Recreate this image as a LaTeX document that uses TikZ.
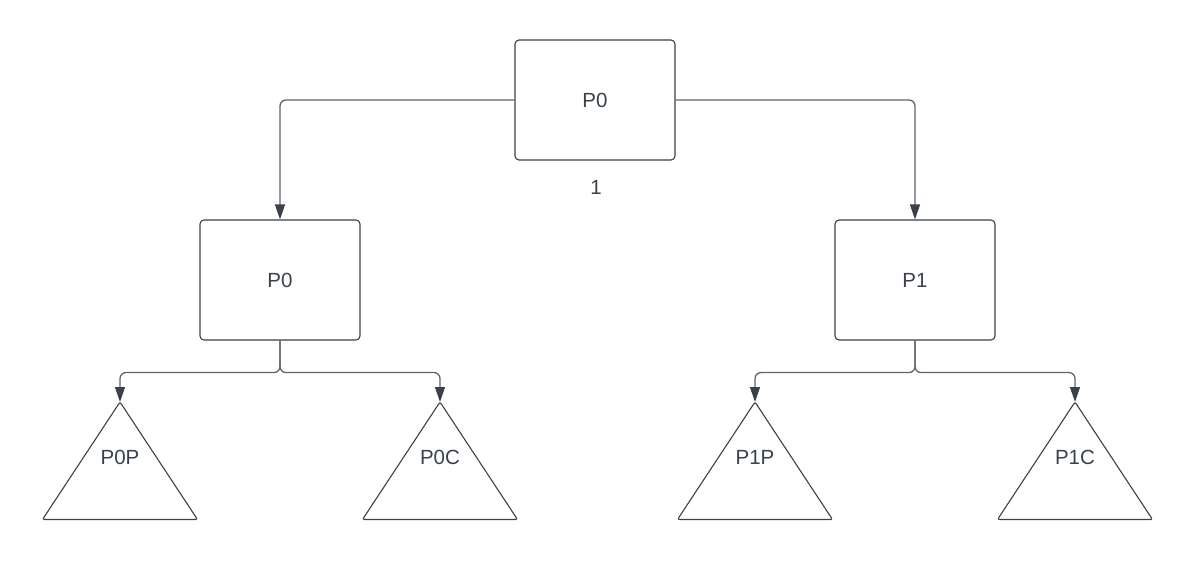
\documentclass[tikz,border=0pt]{standalone}
\usepackage{fontspec}
\setmainfont{Liberation Sans}
\usetikzlibrary{arrows.meta}
\definecolor{ink}{HTML}{3A414A}
\definecolor{wire}{HTML}{5E646C}
\begin{document}
\begin{tikzpicture}[x=1pt,y=-1pt,
  every node/.style={text=ink,font=\fontsize{20.5}{24}\selectfont},
  procbox/.style={draw=ink,line width=1.1pt,rounded corners=4pt,
    minimum width=160pt,minimum height=120pt,inner sep=0pt},
  treelabel/.style={inner sep=0pt},
  tri/.style={draw=ink,line width=1.1pt,rounded corners=2pt},
  link/.style={draw=wire,line width=1.3pt,rounded corners=6pt,
    -{Triangle[length=15pt,width=10pt,color=ink]}}]
\useasboundingbox (0,0) rectangle (1195,560);

% process boxes
\node[procbox] (root) at (595,100) {P0};
\node[procbox] (left) at (280,280) {P0};
\node[procbox] (right) at (915,280) {P1};
\node[treelabel] (count) at (596,187) {1};

% subtree triangles: apex coordinate plus centred label
\foreach \n/\x/\t in {lp/120/P0P, lc/440/P0C, rp/755/P1P, rc/1075/P1C}{
  \coordinate (\n) at (\x,402);
  \draw[tri] (\x,402) -- (\x+77.5,519.5) -- (\x-77.5,519.5) -- cycle;
  \node[treelabel] (\n-text) at (\x,457) {\t};
}

% connectors from the root
\draw[link] (root.west) -| (left.north);
\draw[link] (root.east) -| (right.north);

% forks to the subtrees
\draw[link] (left.south) |- ++(0,32) -| (lp);
\draw[link] (left.south) |- ++(0,32) -| (lc);
\draw[link] (right.south) |- ++(0,32) -| (rp);
\draw[link] (right.south) |- ++(0,32) -| (rc);
\end{tikzpicture}
\end{document}
